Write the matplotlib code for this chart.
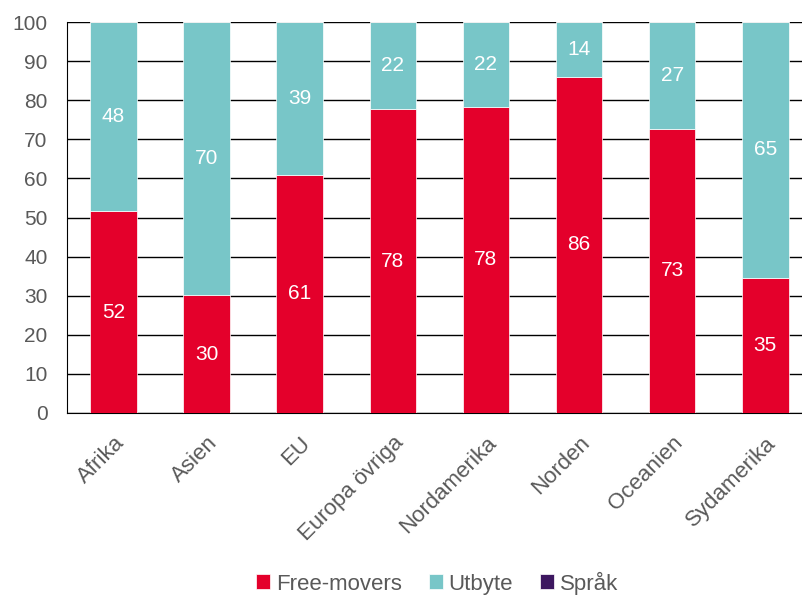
import matplotlib.pyplot as plt
import numpy as np

plt.rcParams['font.family'] = ['Liberation Sans', 'DejaVu Sans']

regions = ['Afrika', 'Asien', 'EU', 'Europa övriga', 'Nordamerika',
           'Norden', 'Oceanien', 'Sydamerika']
free_movers = [51.6, 30.1, 60.9, 77.7, 78.3, 86.0, 72.7, 34.6]
utbyte = [48.4, 69.9, 39.1, 22.3, 21.7, 14.0, 27.3, 65.4]
sprak = [0, 0, 0, 0, 0, 0, 0, 0]

red = '#E4002B'
teal = '#78C6C8'
purple = '#3D1760'
grey = '#595959'

fig = plt.figure(figsize=(8.03, 5.95), dpi=100)
ax = fig.add_axes([67 / 803, 1 - 413 / 595, 1 - 67 / 803, (413 - 22) / 595])

x = np.arange(len(regions))
fm = np.array(free_movers)
ut = np.array(utbyte)
sp = np.array(sprak)

w = 0.5
b1 = ax.bar(x, fm, w, color=red, edgecolor='white', linewidth=0.5, label='Free-movers', zorder=3)
b2 = ax.bar(x, ut, w, bottom=fm, color=teal, edgecolor='white', linewidth=0.5, label='Utbyte', zorder=3)
b3 = ax.bar(x, sp, w, bottom=fm + ut, color=purple, edgecolor='white', linewidth=0.5, label='Språk', zorder=3)

for i in range(len(regions)):
    ax.text(x[i], fm[i] / 2, '%.0f' % fm[i], ha='center', va='center',
            color='white', fontsize=15, zorder=4)
    ax.text(x[i], fm[i] + ut[i] / 2, '%.0f' % ut[i], ha='center', va='center',
            color='white', fontsize=15, zorder=4)

ax.set_ylim(0, 100)
ax.set_xlim(-0.5, 7.405)
ax.set_yticks(np.arange(0, 101, 10))
ax.yaxis.grid(True, color='black', linewidth=1)
ax.set_axisbelow(True)
ax.tick_params(length=0, colors=grey)
ax.tick_params(axis='y', labelsize=15, pad=14)
ax.tick_params(axis='x', labelsize=16, pad=14)
ax.set_xticks(x)
ax.set_xticklabels(regions, rotation=45, ha='right', rotation_mode='anchor')
for s in ['top', 'right']:
    ax.spines[s].set_visible(False)
ax.spines['left'].set_color('black')
ax.spines['bottom'].set_color('black')

fig.legend(handles=[b1, b2, b3], loc='center', bbox_to_anchor=(437 / 803, 1 - 583 / 595),
           ncol=3, frameon=False, fontsize=16, handlelength=0.65, handleheight=0.65,
           handletextpad=0.25, columnspacing=1.2, labelcolor=grey)

fig.savefig('out.png', dpi=100)
